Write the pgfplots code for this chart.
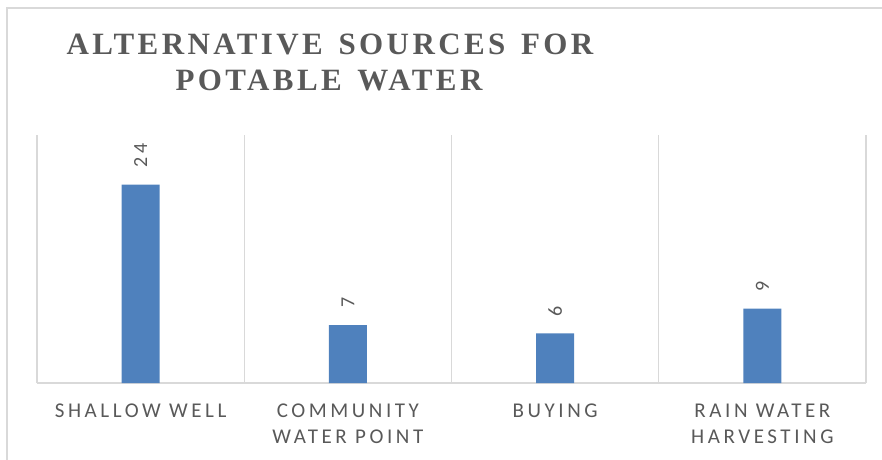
\documentclass[border=0pt]{standalone}
\usepackage{fontspec}
\usepackage{pgfplots}
\pgfplotsset{compat=1.18}
\setmainfont{Carlito}
\newfontfamily\labfont[LetterSpace=17]{Carlito}
\newfontfamily\titlefont[LetterSpace=11,WordSpace=1.4]{Liberation Serif}
\definecolor{barblue}{HTML}{4F81BD}
\definecolor{txtgray}{HTML}{595959}
\definecolor{gridgray}{HTML}{D9D9D9}
\begin{document}
\begin{tikzpicture}[x=1pt,y=1pt]
\useasboundingbox (0,0) rectangle (882,459);
\draw[gridgray, line width=1.2pt] (7,-20) |- (900,451);
\node[anchor=base, font=\titlefont\bfseries\fontsize{31}{33}\selectfont, text=txtgray, inner sep=0pt] at (330,404.5) {ALTERNATIVE SOURCES FOR};
\node[anchor=base, font=\titlefont\bfseries\fontsize{31}{33}\selectfont, text=txtgray, inner sep=0pt] at (329,368.3) {POTABLE WATER};
\begin{axis}[
  at={(37pt,76pt)}, anchor=south west,
  scale only axis, width=829pt, height=248pt,
  xmin=-0.5, xmax=3.5, ymin=0, ymax=30,
  ybar, bar width=38pt,
  axis x line*=bottom, axis y line=none,
  x axis line style={gridgray, line width=1.2pt},
  xtick={0,1,2,3},
  xticklabels={{SHALLOW WELL},{COMMUNITY\\WATER POINT},{BUYING},{RAIN WATER\\HARVESTING}},
  major tick length=0pt, minor tick length=0pt,
  minor xtick={-0.5,0.5,1.5,2.5,3.5},
  xminorgrids=true,
  minor x grid style={gridgray, line width=1.2pt},
  xticklabel style={anchor=north, inner sep=0pt, yshift=-21pt, align=center,
    font=\labfont\fontsize{21}{25.5}\selectfont, text=txtgray},
  /pgf/number format/assume math mode=true,
  nodes near coords,
  every node near coord/.append style={rotate=90, anchor=west, inner xsep=17pt, inner ysep=0pt,
    font=\labfont\fontsize{20}{24}\selectfont, text=txtgray},
  clip=false,
]
\addplot[fill=barblue, draw=none] coordinates {(0,24) (1,7) (2,6) (3,9)};
\end{axis}
\end{tikzpicture}
\end{document}
